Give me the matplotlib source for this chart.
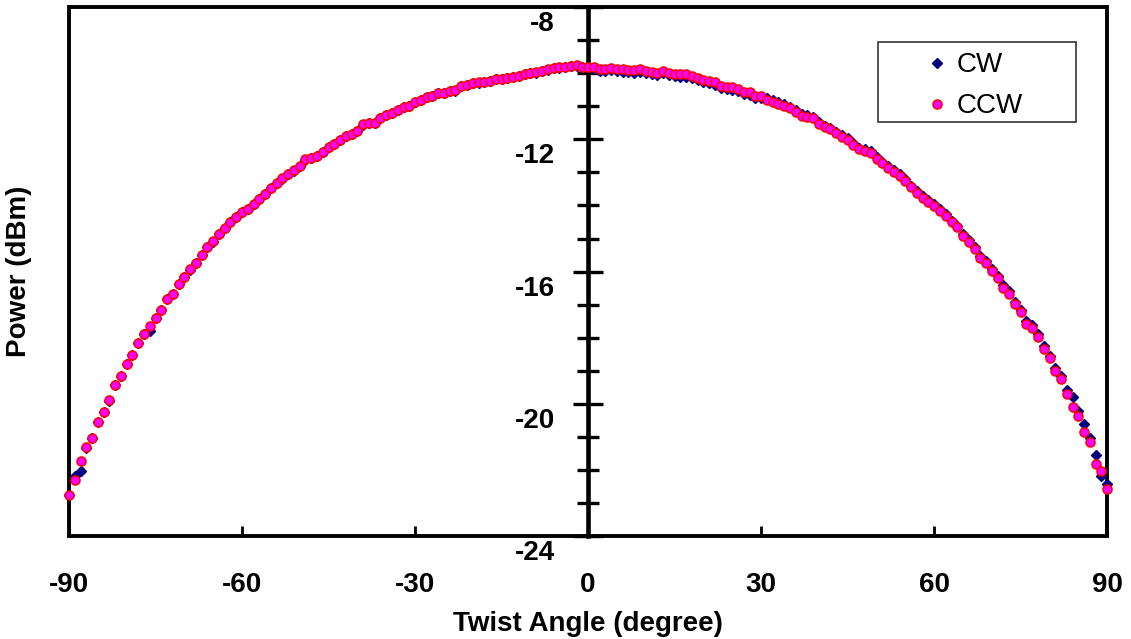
from matplotlib import pyplot as plt
from matplotlib.patches import Rectangle
from matplotlib.ticker import MultipleLocator
from matplotlib.transforms import ScaledTranslation
import numpy as np

plt.rcParams['font.family'] = ['Liberation Sans', 'DejaVu Sans']

# twist angle in degrees, one reading per degree
angle = np.arange(-90, 91, 1)

ccw = [
    -22.76, -22.29, -21.72, -21.32, -21.04, -20.54, -20.25, -19.89, -19.43, -19.15,
    -18.79, -18.51, -18.15, -17.88, -17.65, -17.40, -17.16, -16.83, -16.67, -16.37,
    -16.16, -15.93, -15.74, -15.50, -15.27, -15.09, -14.85, -14.68, -14.51, -14.35,
    -14.21, -14.10, -13.96, -13.80, -13.65, -13.47, -13.32, -13.18, -13.06, -12.94,
    -12.81, -12.61, -12.56, -12.50, -12.38, -12.23, -12.13, -12.02, -11.89, -11.84,
    -11.74, -11.55, -11.50, -11.50, -11.37, -11.26, -11.19, -11.11, -11.02, -10.99,
    -10.86, -10.81, -10.73, -10.69, -10.61, -10.59, -10.55, -10.52, -10.38, -10.35,
    -10.31, -10.28, -10.26, -10.23, -10.19, -10.17, -10.14, -10.11, -10.09, -10.02,
    -9.99, -9.97, -9.92, -9.88, -9.85, -9.82, -9.80, -9.78, -9.76, -9.80,
    -9.80,
    -9.81, -9.86, -9.86, -9.84, -9.86, -9.88, -9.89, -9.91, -9.88, -9.94,
    -9.96, -9.98, -9.92, -9.98, -10.02, -10.04, -10.04, -10.08, -10.14, -10.20,
    -10.24, -10.28, -10.39, -10.42, -10.43, -10.48, -10.58, -10.58, -10.68, -10.68,
    -10.80, -10.86, -10.93, -10.98, -11.06, -11.17, -11.29, -11.32, -11.37, -11.54,
    -11.64, -11.70, -11.82, -11.92, -12.02, -12.17, -12.30, -12.35, -12.41, -12.60,
    -12.73, -12.86, -12.98, -13.11, -13.25, -13.45, -13.61, -13.76, -13.89, -14.01,
    -14.16, -14.32, -14.51, -14.66, -14.92, -15.10, -15.33, -15.58, -15.74, -15.98,
    -16.19, -16.49, -16.67, -16.98, -17.22, -17.58, -17.71, -17.97, -18.34, -18.62,
    -19.00, -19.26, -19.71, -20.09, -20.37, -20.86, -21.14, -21.81, -22.03, -22.59,
]

cw = [
    -22.76, -22.19, -22.02, -21.34, -21.04, -20.56, -20.25, -19.90, -19.43, -19.16,
    -18.79, -18.52, -18.15, -17.89, -17.80, -17.41, -17.16, -16.84, -16.67, -16.38,
    -16.16, -15.94, -15.74, -15.51, -15.27, -15.10, -14.85, -14.69, -14.51, -14.36,
    -14.21, -14.11, -13.96, -13.81, -13.65, -13.48, -13.32, -13.19, -13.06, -12.95,
    -12.81, -12.62, -12.56, -12.51, -12.38, -12.24, -12.13, -12.03, -11.89, -11.85,
    -11.74, -11.56, -11.50, -11.51, -11.37, -11.27, -11.19, -11.12, -11.02, -11.00,
    -10.86, -10.82, -10.73, -10.70, -10.61, -10.60, -10.55, -10.53, -10.38, -10.36,
    -10.31, -10.29, -10.26, -10.24, -10.19, -10.18, -10.14, -10.12, -10.09, -10.03,
    -9.99, -9.98, -9.92, -9.89, -9.85, -9.83, -9.80, -9.79, -9.77, -9.81,
    -9.82,
    -9.87, -9.92, -9.93, -9.91, -9.93, -9.95, -9.96, -9.98, -9.96, -10.01,
    -10.03, -10.05, -10.00, -10.05, -10.09, -10.11, -10.11, -10.15, -10.21, -10.27,
    -10.31, -10.35, -10.45, -10.49, -10.50, -10.55, -10.64, -10.65, -10.74, -10.75,
    -10.75, -10.81, -10.88, -10.93, -11.01, -11.12, -11.24, -11.27, -11.32, -11.49,
    -11.59, -11.65, -11.77, -11.87, -11.97, -12.12, -12.25, -12.30, -12.36, -12.55,
    -12.68, -12.81, -12.93, -13.06, -13.20, -13.40, -13.56, -13.71, -13.84, -13.96,
    -14.11, -14.27, -14.46, -14.61, -14.86, -15.04, -15.27, -15.52, -15.68, -15.92,
    -16.13, -16.42, -16.60, -16.91, -17.15, -17.50, -17.63, -17.89, -18.26, -18.54,
    -18.92, -19.17, -19.59, -19.79, -20.22, -20.62, -21.02, -21.56, -22.19, -22.41,
]

x_ticks = [-90, -60, -30, 0, 30, 60, 90]
y_ticks = [-24, -20, -16, -12, -8]

fig = plt.figure(figsize=(11.31, 6.39), dpi=100)
ax = fig.add_axes([0.061, 0.161, 0.918, 0.828])

ax.plot(angle, cw, 'D', color='#000080', markersize=5, label='CW',
        clip_on=False, zorder=4)
ax.plot(angle, ccw, 'o', markerfacecolor='#FF00FF', markeredgecolor='red',
        markeredgewidth=1.1, markersize=6.5, label='CCW', clip_on=False, zorder=5)

ax.set_xlim(-90, 90)
ax.set_ylim(-24, -8)

# y axis runs through zero, frame drawn as a box around the plot
ax.spines['left'].set_position(('data', 0))
ax.spines['left'].set_linewidth(3.3)
for side in ['top', 'right', 'bottom']:
    ax.spines[side].set_visible(False)
ax.add_patch(Rectangle((0, 0), 1, 1, transform=ax.transAxes, fill=False,
                       edgecolor='black', linewidth=2.8, clip_on=False, zorder=3))

ax.set_xticks(x_ticks)
ax.set_xticklabels([str(v) for v in x_ticks], fontsize=20, fontweight='bold')
ax.tick_params(axis='x', direction='in', length=7, width=2, pad=26)

ax.set_yticks(y_ticks)
ax.set_yticklabels([str(v) for v in y_ticks], fontsize=20, fontweight='bold', va='top')
ax.yaxis.set_minor_locator(MultipleLocator(1))
ax.tick_params(axis='y', which='major', direction='inout', length=22, width=2.4, pad=13)
ax.tick_params(axis='y', which='minor', direction='inout', length=16, width=2.4)
shift = ScaledTranslation(0, -3 / 72, fig.dpi_scale_trans)
for lbl in ax.get_yticklabels():
    lbl.set_transform(lbl.get_transform() + shift)

ax.set_xlabel('Twist Angle (degree)', fontsize=20, fontweight='bold')
ax.xaxis.set_label_coords(0.5, -0.142)
ax.set_ylabel('Power (dBm)', fontsize=20, fontweight='bold')
ax.yaxis.set_label_coords(-0.036, 0.5)

ax.legend(loc='upper left', bbox_to_anchor=(0.8227, 0.9145), frameon=False,
          fontsize=20, handlelength=1, handletextpad=0.2, labelspacing=0.54,
          borderaxespad=0, borderpad=0, numpoints=1)
ax.add_patch(Rectangle((0.779, 0.783), 0.191, 0.151, transform=ax.transAxes,
                       fill=False, edgecolor='#333333', linewidth=1.2, zorder=3))

plt.savefig('out.png', dpi=100)
